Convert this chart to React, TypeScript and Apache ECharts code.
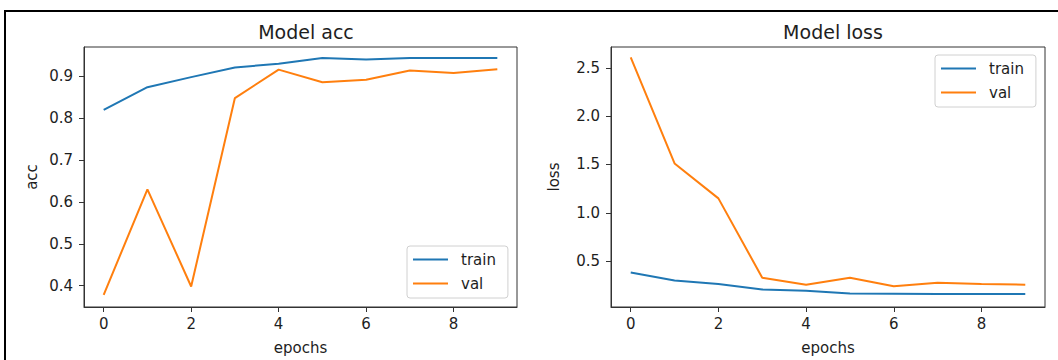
import React, { useEffect, useRef } from 'react';
import * as echarts from 'echarts';

const epochs = [0, 1, 2, 3, 4, 5, 6, 7, 8, 9];
const accTrain = [0.820, 0.874, 0.898, 0.921, 0.930, 0.944, 0.940, 0.944, 0.944, 0.944];
const accVal = [0.378, 0.630, 0.398, 0.848, 0.916, 0.886, 0.892, 0.914, 0.908, 0.917];
const lossTrain = [0.383, 0.300, 0.262, 0.206, 0.193, 0.165, 0.162, 0.160, 0.160, 0.160];
const lossVal = [2.608, 1.510, 1.149, 0.328, 0.255, 0.328, 0.240, 0.276, 0.262, 0.256];

const xTicks = [0, 2, 4, 6, 8];
const accTicks = [0.4, 0.5, 0.6, 0.7, 0.8, 0.9];
const lossTicks = [0.5, 1.0, 1.5, 2.0, 2.5];
const seriesNames = ['train', 'val'];
const titles = ['Model acc', 'Model loss'];

const FONT = 'DejaVu Sans';
const TXT = '#1e1e1e';
const BLUE = '#1f77b4';
const ORANGE = '#ff7f0e';

const pairs = (ys: number[]) => epochs.map((x, i) => [x, ys[i]]);

function xAxis(gridIndex: number) {
  return {
    type: 'value',
    gridIndex,
    min: -0.45,
    max: 9.45,
    name: 'epochs',
    nameLocation: 'middle',
    nameGap: 33,
    nameTextStyle: { fontFamily: FONT, fontSize: 15, color: TXT },
    axisLine: { show: true, onZero: false, lineStyle: { color: '#333', width: 1 } },
    axisTick: { show: true, length: 5, customValues: xTicks, lineStyle: { color: '#333', width: 1 } },
    axisLabel: {
      customValues: xTicks,
      margin: 9,
      fontFamily: FONT,
      fontSize: 15,
      color: TXT,
      formatter: (v: number) => String(v),
    },
    splitLine: { show: false },
  };
}

function yAxis(gridIndex: number, min: number, max: number, ticks: number[], name: string, nameGap: number) {
  return {
    type: 'value',
    gridIndex,
    min,
    max,
    name,
    nameLocation: 'middle',
    nameRotate: 90,
    nameGap,
    nameTextStyle: { fontFamily: FONT, fontSize: 15, color: TXT },
    axisLine: { show: true, onZero: false, lineStyle: { color: '#333', width: 1 } },
    axisTick: { show: true, length: 5, customValues: ticks, lineStyle: { color: '#333', width: 1 } },
    axisLabel: {
      customValues: ticks,
      margin: 11,
      fontFamily: FONT,
      fontSize: 15,
      color: TXT,
      formatter: (v: number) => v.toFixed(1),
    },
    splitLine: { show: false },
  };
}

function legend(left: number, top: number) {
  return {
    data: seriesNames,
    orient: 'vertical',
    left,
    top,
    icon: 'rect',
    itemWidth: 35,
    itemHeight: 2,
    itemGap: 9,
    padding: [6, 12, 7, 6],
    borderColor: '#d0d0d0',
    borderWidth: 1,
    borderRadius: 3,
    backgroundColor: 'rgba(255,255,255,0.8)',
    textStyle: { fontFamily: FONT, fontSize: 15, color: TXT, padding: [0, 0, 0, 8] },
    selectedMode: false,
  };
}

function line(name: string, color: string, data: number[], idx: number) {
  return {
    type: 'line',
    name,
    xAxisIndex: idx,
    yAxisIndex: idx,
    data: pairs(data),
    showSymbol: false,
    symbol: 'none',
    lineStyle: { color, width: 2 },
    itemStyle: { color },
    z: name === 'val' ? 3 : 2,
  };
}

export default function App() {
  const ref = useRef<HTMLDivElement>(null);
  useEffect(() => {
    const chart = echarts.init(ref.current!, null, { renderer: 'svg' });
    chart.setOption({
      animation: false,
      backgroundColor: '#ffffff',
      title: [
        { text: titles[0], left: 301, top: 17, textAlign: 'center', textStyle: { fontFamily: FONT, fontSize: 19, fontWeight: 'normal', color: TXT } },
        { text: titles[1], left: 828, top: 17, textAlign: 'center', textStyle: { fontFamily: FONT, fontSize: 19, fontWeight: 'normal', color: TXT } },
      ],
      grid: [
        { left: 84, top: 47, width: 433, height: 260, show: true, borderColor: '#333', borderWidth: 1, backgroundColor: 'transparent' },
        { left: 611, top: 47, width: 434, height: 260, show: true, borderColor: '#333', borderWidth: 1, backgroundColor: 'transparent' },
      ],
      xAxis: [xAxis(0), xAxis(1)],
      yAxis: [yAxis(0, 0.349, 0.970, accTicks, 'acc', 45), yAxis(1, 0.025, 2.715, lossTicks, 'loss', 50)],
      legend: [legend(407, 246), legend(935, 55)],
      series: [
        line('train', BLUE, accTrain, 0),
        line('val', ORANGE, accVal, 0),
        line('train', BLUE, lossTrain, 1),
        line('val', ORANGE, lossVal, 1),
      ],
      graphic: [
        {
          type: 'rect',
          shape: { x: 5, y: 11, width: 1200, height: 500 },
          style: { fill: 'none', stroke: '#000', lineWidth: 2 },
          silent: true,
        },
      ],
    });
    return () => chart.dispose();
  }, []);
  return (
    <div
      ref={ref}
      style={{ position: 'fixed', left: 0, top: 0, width: 1058, height: 360, background: '#fff' }}
    />
  );
}
